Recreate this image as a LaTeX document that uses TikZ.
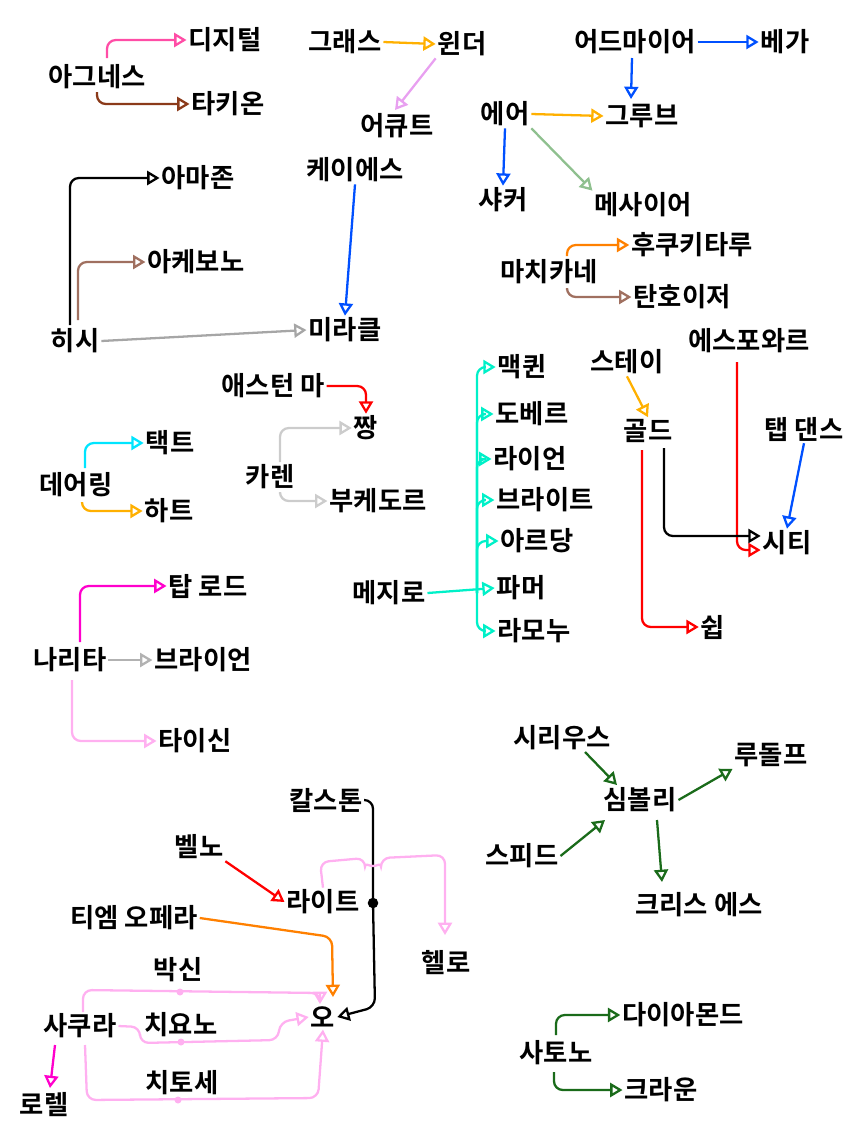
\documentclass[tikz,border=0pt]{standalone}
\usepackage{fontspec}
\setmainfont{Noto Sans CJK KR Bold}
\usetikzlibrary{arrows.meta}
\definecolor{hotpink}{HTML}{FF4DA6}
\definecolor{brn}{HTML}{8B3A1A}
\definecolor{lbrn}{HTML}{A07060}
\definecolor{gold}{HTML}{FFB000}
\definecolor{orng}{HTML}{FF8000}
\definecolor{vio}{HTML}{E8A0F0}
\definecolor{blu}{HTML}{0050FF}
\definecolor{sage}{HTML}{8FC08F}
\definecolor{cyn}{HTML}{00E5FF}
\definecolor{aqua}{HTML}{00F0C8}
\definecolor{mgnt}{HTML}{FF00CC}
\definecolor{lpink}{HTML}{FFB0F0}
\definecolor{dgrn}{HTML}{1A6B1A}
\tikzset{
  lbl/.style={inner sep=1pt, font=\fontsize{15}{17}\selectfont},
  link/.style={line width=1.3pt, rounded corners=5pt, -{Triangle[open,length=7pt,width=8pt]}},
  dot/.style={circle, fill=#1, inner sep=0pt, minimum size=4pt}
}
\begin{document}
\begin{tikzpicture}[x=0.02cm,y=-0.02cm]
        \useasboundingbox (0,0) rectangle (850,1134);
        % names
        \node[lbl] (digital) at (225,40) {디지털};
        \node[lbl] (agnes) at (97,77) {아그네스};
        \node[lbl] (tachyon) at (228,104) {타키온};
        \node[lbl] (grass) at (345,42) {그래스};
        \node[lbl] (wonder) at (462,44) {윈더};
        \node[lbl] (acute) at (397,126) {어큐트};
        \node[lbl] (admire) at (635,42) {어드마이어};
        \node[lbl] (vega) at (785,42) {베가};
        \node[lbl] (air) at (505,114) {에어};
        \node[lbl] (groove) at (642,116) {그루브};
        \node[lbl] (shakur) at (503,200) {샤커};
        \node[lbl] (messiah) at (643,205) {메사이어};
        \node[lbl] (amazon) at (198,178) {아마존};
        \node[lbl] (kes) at (355,170) {케이에스};
        \node[lbl] (akebono) at (196,262) {아케보노};
        \node[lbl] (machikane) at (549,272) {마치카네};
        \node[lbl] (fukuki) at (692,245) {후쿠키타루};
        \node[lbl] (tanno) at (682,297) {탄호이저};
        \node[lbl] (hishi) at (75,341) {히시};
        \node[lbl] (miracle) at (345,330) {미라클};
        \node[lbl] (aston) at (273,386) {애스턴 마};
        \node[lbl] (jjang) at (366,428) {짱};
        \node[lbl] (mcqueen) at (522,367) {맥퀸};
        \node[lbl] (stay) at (627,362) {스테이};
        \node[lbl] (espoir) at (749,341) {에스포와르};
        \node[lbl] (dober) at (532,414) {도베르};
        \node[lbl] (goldn) at (648,431) {골드};
        \node[lbl] (tap) at (804,429) {탭 댄스};
        \node[lbl] (tact) at (170,443) {택트};
        \node[lbl] (ryan) at (530,459) {라이언};
        \node[lbl] (curren) at (270,477) {카렌};
        \node[lbl] (daring) at (76,485) {데어링};
        \node[lbl] (bouquet) at (378,501) {부케도르};
        \node[lbl] (bright) at (545,500) {브라이트};
        \node[lbl] (heart) at (169,511) {하트};
        \node[lbl] (ardan) at (537,541) {아르당};
        \node[lbl] (city) at (787,543) {시티};
        \node[lbl] (mejiro) at (389,593) {메지로};
        \node[lbl] (palmer) at (521,588) {파머};
        \node[lbl] (ramonu) at (534,631) {라모누};
        \node[lbl] (ship) at (713,627) {쉽};
        \node[lbl] (toproad) at (208,586) {탑 로드};
        \node[lbl] (narita) at (70,660) {나리타};
        \node[lbl] (brian) at (203,660) {브라이언};
        \node[lbl] (taishin) at (195,741) {타이신};
        \node[lbl] (sirius) at (562,738) {시리우스};
        \node[lbl] (rudolf) at (771,755) {루돌프};
        \node[lbl] (symboli) at (640,800) {심볼리};
        \node[lbl] (calstone) at (326,800) {칼스톤};
        \node[lbl] (speed) at (522,856) {스피드};
        \node[lbl] (bellno) at (199,847) {벨노};
        \node[lbl] (light) at (323,902) {라이트};
        \node[lbl] (kris) at (699,905) {크리스 에스};
        \node[lbl] (tmopera) at (134,918) {티엠 오페라};
        \node[lbl] (hello) at (446,963) {헬로};
        \node[lbl] (bakushin) at (178,970) {박신};
        \node[lbl] (sakura) at (80,1026) {사쿠라};
        \node[lbl] (chiyono) at (181,1025) {치요노};
        \node[lbl] (oh) at (323,1017) {오};
        \node[lbl] (diamond) at (683,1015) {다이아몬드};
        \node[lbl] (satono) at (556,1053) {사토노};
        \node[lbl] (chitose) at (182,1083) {치토세};
        \node[lbl] (laurel) at (44,1105) {로렐};
        \node[lbl] (crown) at (661,1090) {크라운};
        \coordinate (trunk) at (477,593);
        \coordinate (cal) at (373,903);

        % top rows
        \draw[link, hotpink] (107,58) |- (digital.west);
        \draw[link, brn] (97,92) |- (tachyon.west);
        \draw[link, gold] (grass.east) -- (wonder.west);
        \draw[link, vio] (wonder.south west) -- (395,110);
        \draw[link, blu] (admire.east) -- (vega.west);
        \draw[link, blu] (632,58) -- (631,99);
        \draw[link, gold] (air.east) -- (groove.west);
        \draw[link, blu] (air.south) -- (shakur.north);
        \draw[link, sage] (air.south east) -- (messiah.north west);
        \draw[link, black] (70,325) |- (amazon.west);
        \draw[link, lbrn] (78,320) |- (akebono.west);
        \draw[link, gray!70] (hishi.east) -- (miracle.west);
        \draw[link, blu] (kes.south) -- (miracle.north);
        \draw[link, orng] (567,256) |- (fukuki.west);
        \draw[link, lbrn] (567,290) |- (tanno.west);

        % middle
        \draw[link, red] (aston.east) -| (jjang.north);
        \draw[link, gray!40] (280,462) |- (jjang.west);
        \draw[link, gray!40] (280,494) |- (bouquet.west);
        \draw[link, cyn] (85,468) |- (tact.west);
        \draw[link, gold] (82,503) |- (heart.west);
        \draw[link, aqua] (mejiro.east) -- (palmer.west);
        \foreach \n in {mcqueen,dober,ryan,bright,ardan,ramonu}
          \draw[link, aqua] (trunk) |- (\n.west);
        \draw[link, gold] (stay.south) -- (goldn.north);
        \draw[link, red] (737,362) |- ([yshift=-4pt]city.west);
        \draw[link, blu] (tap.south) -- (city.north);
        \draw[link, black] (664,448) |- ([yshift=4pt]city.west);
        \draw[link, red] (642,450) |- (ship.west);
        \draw[link, mgnt] (80,642) |- (toproad.west);
        \draw[link, gray!60] (narita.east) -- (brian.west);
        \draw[link, lpink] (72,680) |- (taishin.west);

        % bottom right
        \draw[link, dgrn] (585,752) -- (617,785);
        \draw[link, dgrn] (speed.east) -- (605,820);
        \draw[link, dgrn] (symboli.east) -- (rudolf.south west);
        \draw[link, dgrn] (657,820) -- (662,882);
        \draw[link, dgrn] (556,1035) |- (diamond.west);
        \draw[link, dgrn] (554,1072) |- (crown.west);

        % bottom left
        \draw[link, black] (calstone.east) -- (373,800) -- (cal) -- (375,1007) -- (oh.east);
        \node[dot=black, minimum size=6pt] at (cal) {};
        \draw[link, lpink] (light.north) -- (320,862) -- (365,858) arc (180:0:8) -- (445,855) -- (445,935);
        \draw[link, red] (bellno.south east) -- (light.west);
        \draw[link, orng] (tmopera.east) -- (332,937) -- (333,997);
        \draw[link, lpink] (83,1012) -- (83,990) -- (320,993) -- (320,1004);
        \node[dot=lpink] at (180,992) {};
        \draw[link, lpink] (sakura.east) -- (140,1027) -- (140,1043) -- (278,1040) -- (280,1022) -- (oh.west);
        \node[dot=lpink] at (181,1042) {};
        \draw[link, lpink] (85,1045) -- (87,1100) -- (318,1098) -- (oh.south);
        \node[dot=lpink] at (178,1100) {};
        \draw[link, mgnt] (55,1045) -- (50,1088);
\end{tikzpicture}
\end{document}
